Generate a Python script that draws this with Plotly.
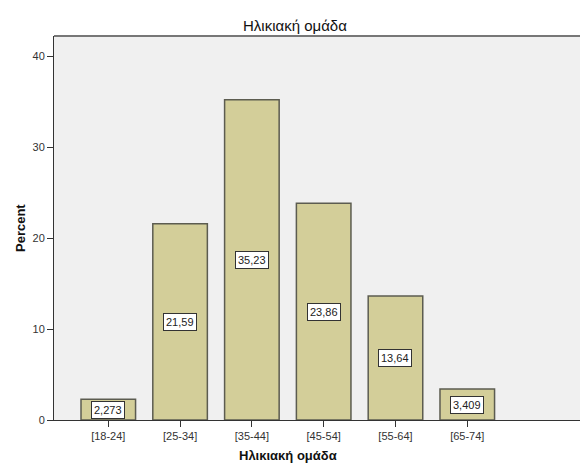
import plotly.graph_objects as go

categories = ["[18-24]", "[25-34]", "[35-44]", "[45-54]", "[55-64]", "[65-74]"]
percent = [2.273, 21.59, 35.23, 23.86, 13.64, 3.409]
value_labels = ["2,273", "21,59", "35,23", "23,86", "13,64", "3,409"]
y_ticks = [0, 10, 20, 30, 40]

FONT = "Liberation Sans, Arial, sans-serif"
W, H = 580, 466
L, R, T, B = 54, 0, 36, 46
PW, PH = W - L - R, H - T - B


def px_x(px):
    return (px - L) / PW


def px_y(py):
    return (H - B - py) / PH


fig = go.Figure()
fig.add_trace(go.Bar(
    x=list(range(len(categories))),
    y=percent,
    width=0.76,
    marker=dict(color="#d3ce99", line=dict(color="#5c5c50", width=1.5)),
    hoverinfo="skip",
))

for i, (v, lab) in enumerate(zip(percent, value_labels)):
    fig.add_annotation(
        x=i, y=v / 2, xref="x", yref="y", text=lab, showarrow=False,
        font=dict(family=FONT, size=11, color="#222222"),
        bgcolor="white", bordercolor="#333333", borderwidth=1, borderpad=2,
    )

fig.update_layout(
    width=W, height=H,
    margin=dict(l=L, r=R, t=T, b=B, pad=0),
    paper_bgcolor="white",
    plot_bgcolor="#f0f0f0",
    showlegend=False,
    font=dict(family=FONT, size=11, color="#333333"),
    xaxis=dict(
        range=[-0.756, 6.57],
        tickmode="array",
        tickvals=list(range(len(categories))),
        ticktext=categories,
        ticks="outside", ticklen=6, tickcolor="#333333", tickwidth=1,
        showgrid=False, zeroline=False,
        showline=True, linecolor="#333333", linewidth=1,
        tickfont=dict(family=FONT, size=11, color="#333333"),
        fixedrange=True,
    ),
    yaxis=dict(
        range=[0, 42.25],
        tickmode="array",
        tickvals=y_ticks,
        ticktext=[str(t) for t in y_ticks],
        ticks="outside", ticklen=6, tickcolor="#333333", tickwidth=1,
        showgrid=False, zeroline=False,
        showline=True, linecolor="#333333", linewidth=1,
        tickfont=dict(family=FONT, size=11, color="#333333"),
        fixedrange=True,
    ),
    shapes=[
        dict(type="line", xref="paper", yref="paper", x0=0, x1=1.01, y0=1, y1=1,
             line=dict(color="#777777", width=2)),
    ],
)

# Titles
fig.add_annotation(
    x=px_x(295), y=px_y(25), xref="paper", yref="paper",
    yanchor="middle", xanchor="center", showarrow=False,
    text="Ηλικιακή ομάδα", font=dict(family=FONT, size=15, color="#111111"),
)
fig.add_annotation(
    x=px_x(288), y=px_y(455), xref="paper", yref="paper",
    xanchor="center", yanchor="middle", showarrow=False,
    text="<b>Ηλικιακή ομάδα</b>", font=dict(family=FONT, size=13, color="#111111"),
)
fig.add_annotation(
    x=px_x(20), y=px_y(228), xref="paper", yref="paper",
    xanchor="center", yanchor="middle", showarrow=False, textangle=-90,
    text="<b>Percent</b>", font=dict(family=FONT, size=13, color="#111111"),
)

fig.write_html(
    "out.html",
    config={"displayModeBar": False},
    post_script="document.body.style.margin='0';document.body.style.overflow='hidden';",
)
